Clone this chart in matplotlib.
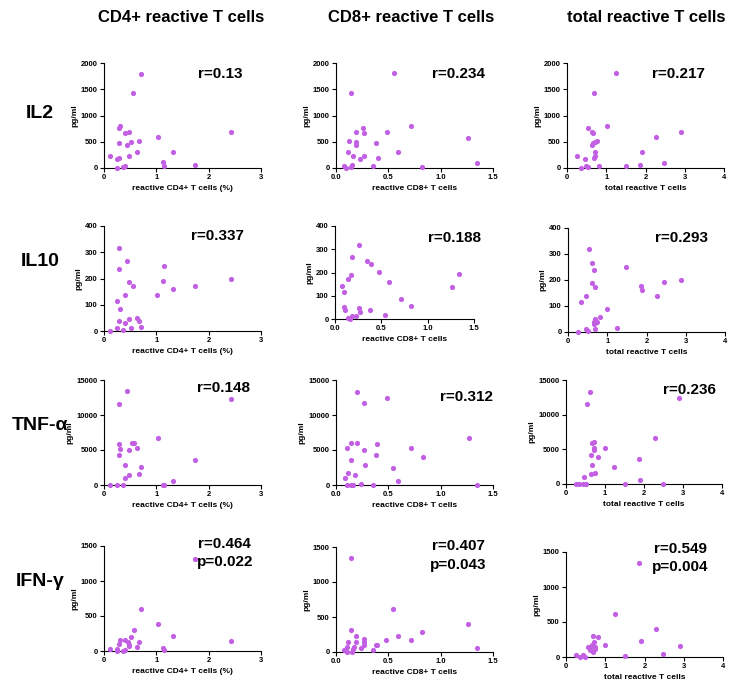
import matplotlib
matplotlib.use("Agg")
import matplotlib.pyplot as plt

plt.rcParams['font.family'] = ['Liberation Sans', 'DejaVu Sans']
plt.rcParams['font.weight'] = 'bold'

W, H = 749, 682

col_titles = ["CD4+ reactive T cells", "CD8+ reactive T cells", "total reactive T cells"]
row_titles = ["IL2", "IL10", "TNF-\u03b1", "IFN-\u03b3"]
x_labels = ["reactive CD4+ T cells (%)", "reactive CD8+ T cells", "total reactive T cells"]

# IL2
il2_cd4_x = [0.71, 0.56, 0.31, 0.29, 0.41, 0.47, 2.42, 0.28, 0.43, 0.52, 0.66, 1.03, 0.63, 1.32,
             0.12, 0.29, 0.24, 0.47, 1.13, 1.15, 1.73, 0.25, 0.37, 0.41]
il2_cd4_y = [1797, 1424, 804, 766, 665, 677, 684, 468, 443, 500, 513, 582, 304, 310,
             234, 196, 171, 234, 108, 32, 57, 0, 19, 44]
il2_cd8_x = [0.55, 0.14, 0.26, 0.19, 0.27, 0.49, 0.72, 0.12, 0.19, 0.19, 0.38, 1.26, 0.11, 0.59,
             0.16, 0.27, 0.40, 0.23, 1.35, 0.08, 0.10, 0.14, 0.15, 0.35, 0.82]
il2_cd8_y = [1803, 1429, 768, 679, 667, 686, 806, 508, 502, 444, 470, 578, 305, 305,
             235, 235, 190, 171, 102, 40, 5, 25, 50, 38, 25]
il2_tot_x = [1.25, 0.70, 0.54, 0.63, 0.67, 1.01, 2.90, 2.27, 0.63, 0.67, 0.71, 0.76, 0.71, 1.91,
             0.26, 0.72, 0.68, 0.47, 2.47, 1.51, 1.86, 0.49, 0.53, 0.82, 0.35]
il2_tot_y = [1803, 1429, 768, 679, 667, 806, 686, 584, 444, 470, 502, 508, 305, 311,
             235, 222, 197, 171, 102, 38, 57, 44, 19, 32, 0]

# IL10
il10_cd4_x = [0.29, 0.43, 1.15, 0.29, 0.47, 1.13, 2.42, 0.56, 1.32, 1.73, 0.41, 1.02, 0.25, 0.31,
              0.63, 0.66, 0.47, 0.29, 0.41, 0.24, 0.52, 0.71, 0.11, 0.37]
il10_cd4_y = [316, 265, 246, 236, 187, 190, 199, 172, 159, 173, 139, 136, 113, 85,
              50, 38, 47, 38, 29, 11, 11, 14, 1, 4]
il10_cd8_x = [0.255, 0.187, 0.345, 0.385, 0.475, 0.173, 0.137, 0.072, 0.094, 0.586, 1.263, 1.342,
              0.709, 0.817, 0.094, 0.104, 0.255, 0.27, 0.374, 0.18, 0.227, 0.536, 0.137, 0.162]
il10_cd8_y = [318, 267, 248, 238, 201, 191, 174, 141, 115, 161, 139, 192,
              88, 56, 52, 39, 49, 32, 39, 13, 13, 16, 4, 1]
il10_tot_x = [0.53, 0.61, 0.67, 1.49, 0.62, 0.69, 1.85, 1.89, 2.45, 2.89, 2.26, 0.47, 0.34, 1.00,
              0.81, 0.70, 0.65, 0.75, 0.66, 0.46, 0.70, 1.24, 0.50, 0.26]
il10_tot_y = [318, 267, 237, 249, 188, 173, 176, 160, 191, 200, 138, 140, 115, 87,
              56, 49, 40, 40, 31, 12, 12, 15, 5, 1]

# TNF-a
tnf_cd4_x = [0.43, 0.29, 2.42, 1.03, 0.53, 0.57, 0.29, 0.31, 0.47, 0.64, 0.29, 1.73, 0.41, 0.71,
             0.66, 0.47, 0.41, 1.32, 0.11, 0.24, 0.37, 1.13, 1.15]
tnf_cd4_y = [13400, 11542, 12290, 6729, 5935, 6028, 5841, 5187, 5000, 5234, 4299, 3598, 2804, 2523,
             1636, 1402, 935, 607, 47, 47, 47, 0, 0]
tnf_cd8_x = [0.198, 0.488, 0.265, 1.267, 0.147, 0.198, 0.396, 0.715, 0.109, 0.265, 0.383, 0.827,
             0.147, 0.278, 0.546, 0.115, 0.185, 0.086, 0.597, 0.105, 0.144, 0.166, 0.236, 0.354, 1.35]
tnf_cd8_y = [13350, 12400, 11650, 6745, 6038, 5990, 5896, 5236, 5236, 5047, 4340, 4009,
             3632, 2830, 2500, 1650, 1462, 990, 613, 47, 47, 47, 94, 47, 47]
tnf_tot_x = [0.615, 0.54, 2.91, 2.28, 1.00, 0.67, 0.71, 0.73, 0.73, 0.65, 0.81, 1.86, 0.67, 1.24,
             0.75, 0.63, 0.47, 1.91, 0.25, 0.34, 0.44, 0.50, 1.50, 2.48]
tnf_tot_y = [13300, 11600, 12360, 6700, 5190, 5850, 5990, 5240, 4950, 4245, 3960, 3585, 2780, 2450,
             1600, 1415, 943, 566, 0, 0, 47, 0, 0, 0]

# IFN-g
ifn_cd4_x = [1.74, 0.71, 1.03, 0.57, 1.32, 0.52, 2.42, 0.31, 0.41, 0.45, 0.29, 0.47, 0.66, 0.63,
             0.47, 0.11, 0.24, 0.25, 0.37, 0.41, 1.13, 1.15]
ifn_cd4_y = [1318, 602, 387, 301, 215, 205, 148, 158, 162, 134, 105, 86, 129, 62,
             72, 33, 24, 0, 0, 10, 38, 10]
ifn_cd8_x = [0.144, 0.546, 1.264, 0.144, 0.594, 0.823, 0.19, 0.482, 0.715, 0.112, 0.19, 0.271,
             0.265, 0.383, 0.396, 0.265, 0.102, 0.176, 0.236, 0.08, 0.166, 0.351, 1.347, 0.105, 0.15]
ifn_cd8_y = [1338, 619, 395, 319, 233, 286, 224, 167, 171, 148, 148, 181,
             143, 105, 105, 95, 76, 76, 52, 33, 43, 24, 52, 0, 0]
ifn_tot_x = [1.87, 1.25, 2.29, 0.69, 0.81, 1.91, 2.91, 1.00, 0.71, 0.55, 0.62, 0.67, 0.75, 0.74,
             0.62, 0.69, 0.25, 0.35, 0.44, 0.49, 1.50, 2.47]
ifn_tot_y = [1340, 612, 397, 306, 282, 230, 158, 167, 215, 144, 144, 167, 144, 110,
             96, 67, 33, 0, 29, 0, 19, 43]

data = [
    [(il2_cd4_x, il2_cd4_y), (il2_cd8_x, il2_cd8_y), (il2_tot_x, il2_tot_y)],
    [(il10_cd4_x, il10_cd4_y), (il10_cd8_x, il10_cd8_y), (il10_tot_x, il10_tot_y)],
    [(tnf_cd4_x, tnf_cd4_y), (tnf_cd8_x, tnf_cd8_y), (tnf_tot_x, tnf_tot_y)],
    [(ifn_cd4_x, ifn_cd4_y), (ifn_cd8_x, ifn_cd8_y), (ifn_tot_x, ifn_tot_y)],
]

r_values = [
    ["r=0.13", "r=0.234", "r=0.217"],
    ["r=0.337", "r=0.188", "r=0.293"],
    ["r=0.148", "r=0.312", "r=0.236"],
    ["r=0.464", "r=0.407", "r=0.549"],
]
p_values = [None, None, None, ["p=0.022", "p=0.043", "p=0.004"]]

x_ticks = [[0, 1, 2, 3], [0.0, 0.5, 1.0, 1.5], [0, 1, 2, 3, 4]]
x_ticklabels = [["0", "1", "2", "3"], ["0.0", "0.5", "1.0", "1.5"], ["0", "1", "2", "3", "4"]]
y_ticks = [[0, 500, 1000, 1500, 2000], [0, 100, 200, 300, 400],
           [0, 5000, 10000, 15000], [0, 500, 1000, 1500]]

# axes boxes in pixels: left, top, right, bottom
boxes = [
    [(104, 63, 261, 168), (336, 63, 493, 168), (567, 63, 724, 168)],
    [(104, 226, 261, 331), (335, 226, 474, 319), (568, 228, 725, 332)],
    [(104, 380, 261, 485), (336, 380, 493, 485), (566, 380, 722, 484)],
    [(104, 546, 261, 651), (336, 547, 493, 652), (566, 552, 723, 657)],
]
# anchor (axes fraction) of r label, and y of p label
r_pos = [
    [(0.74, 0.90), (0.78, 0.90), (0.71, 0.90)],
    [(0.72, 0.90), (0.86, 0.87), (0.72, 0.90)],
    [(0.76, 0.92), (0.83, 0.84), (0.79, 0.90)],
    [(0.77, 1.02), (0.78, 1.01), (0.73, 1.03)],
]
p_y = [0.85, 0.83, 0.86]

purple = '#C25FE3'

fig = plt.figure(figsize=(W / 100, H / 100), dpi=100)

for i in range(4):
    for j in range(3):
        x0, y0, x1, y1 = boxes[i][j]
        ax = fig.add_axes([x0 / W, 1 - y1 / H, (x1 - x0) / W, (y1 - y0) / H])
        xs, ys = data[i][j]
        ax.scatter(xs, ys, s=14, color=purple, linewidths=0, clip_on=False, zorder=3)
        ax.set_xlim(x_ticks[j][0], x_ticks[j][-1])
        ax.set_ylim(y_ticks[i][0], y_ticks[i][-1])
        ax.set_xticks(x_ticks[j])
        ax.set_xticklabels(x_ticklabels[j])
        ax.set_yticks(y_ticks[i])
        ax.spines['top'].set_visible(False)
        ax.spines['right'].set_visible(False)
        ax.tick_params(labelsize=5.5, length=3, width=0.8, pad=1.5)
        ax.set_xlabel(x_labels[j], fontsize=6, fontweight='bold', labelpad=3)
        ax.set_ylabel("pg/ml", fontsize=6, fontweight='bold', labelpad=2)
        sx, sy = r_pos[i][j]
        ax.text(sx, sy, r_values[i][j], transform=ax.transAxes, fontsize=11,
                fontweight='bold', ha='center', va='center')
        if p_values[i] is not None:
            ax.text(sx, p_y[j], p_values[i][j], transform=ax.transAxes, fontsize=11,
                    fontweight='bold', ha='center', va='center')

title_x = [181, 411, 646]
for j in range(3):
    fig.text(title_x[j] / W, 1 - 18 / H, col_titles[j], fontsize=12, fontweight='bold',
             ha='center', va='center')

row_y = [113, 262, 425, 582]
for i in range(4):
    fig.text(40 / W, 1 - row_y[i] / H, row_titles[i], fontsize=14, fontweight='bold',
             ha='center', va='center')

fig.savefig("out.png", dpi=100)
